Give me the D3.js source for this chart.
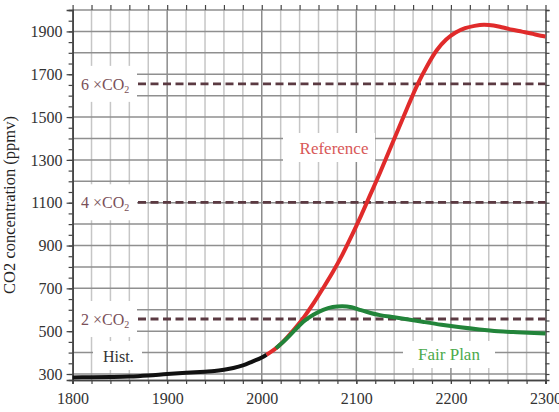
<!DOCTYPE html>
<html>
<head>
<meta charset="utf-8">
<script src="https://cdn.jsdelivr.net/npm/d3@7"></script>
<style>
  body { margin: 0; background: #fff; }
  svg { display: block; }
  svg text { font-family: "Liberation Serif", "Times New Roman", Times, "DejaVu Serif", serif !important; }
</style>
</head>
<body>
<div id="chart"></div>
<script>
// historical record (black)
const histYears = [1800, 1820, 1840, 1860, 1880, 1900, 1920, 1940, 1950, 1960, 1970, 1980, 1990, 2000, 2005];
const histValues = [284, 285, 286, 288, 293, 300, 306, 311, 314, 320, 328, 340, 358, 377, 390];

// reference scenario (red)
const refYears = [2005, 2015, 2025, 2035, 2045, 2055, 2065, 2075, 2085, 2095, 2105, 2115, 2125, 2135, 2145, 2155, 2165, 2175, 2185, 2195, 2205, 2215, 2225, 2235, 2245, 2255, 2265, 2275, 2285, 2295, 2300];
const refValues = [390, 420, 462, 512, 568, 632, 702, 775, 855, 945, 1040, 1140, 1240, 1345, 1450, 1555, 1655, 1740, 1812, 1862, 1895, 1915, 1926, 1931, 1928, 1918, 1908, 1899, 1890, 1880, 1876];

// fair plan scenario (green)
const fairYears = [2015, 2025, 2035, 2045, 2055, 2065, 2075, 2085, 2095, 2105, 2115, 2125, 2140, 2155, 2170, 2190, 2210, 2230, 2250, 2270, 2300];
const fairValues = [420, 460, 505, 548, 578, 600, 613, 617, 612, 598, 585, 575, 565, 555, 544, 530, 518, 508, 500, 495, 489];

// reference levels
const levelNames = ['2', '4', '6'];
const levelValues = [557, 1102, 1655];

const xTicks = [1800, 1900, 2000, 2100, 2200, 2300];
const yTicks = [300, 500, 700, 900, 1100, 1300, 1500, 1700, 1900];

const width = 559, height = 412;
const plotLeft = 72.6, plotRight = 545.5, plotTop = 10, plotBottom = 380;

const svg = d3.select('#chart')
    .append('svg')
    .attr('width', width)
    .attr('height', height);

const x = d3.scaleLinear().domain([1800, 2300]).range([plotLeft, plotRight]);
const y = d3.scaleLinear().domain([272, 2000]).range([plotBottom, plotTop]);

// grid
const grid = svg.append('g');
grid.selectAll('line.v')
    .data(d3.range(1820, 2300, 20))
    .join('line')
    .attr('class', 'v')
    .attr('x1', d => x(d)).attr('x2', d => x(d))
    .attr('y1', plotTop).attr('y2', plotBottom)
    .attr('stroke', d => d % 100 === 0 ? '#8c8c8c' : '#c6c6c6')
    .attr('stroke-width', 1.5);
grid.selectAll('line.h')
    .data(d3.range(300, 2001, 100))
    .join('line')
    .attr('class', 'h')
    .attr('x1', plotLeft).attr('x2', plotRight)
    .attr('y1', d => y(d)).attr('y2', d => y(d))
    .attr('stroke', '#8f8f8f')
    .attr('stroke-width', 1.5);

// white boxes behind labels
const boxes = [
    [73, 137, y(levelValues[0]) - 18, y(levelValues[0]) + 18],
    [73, 137, y(levelValues[1]) - 18, y(levelValues[1]) + 18],
    [73, 137, y(levelValues[2]) - 18, y(levelValues[2]) + 18],
    [93, 142, 341, 370],
    [283, 375, 133, 162],
    [403, 495, 341, 368]
];
svg.append('g').selectAll('rect')
    .data(boxes)
    .join('rect')
    .attr('x', d => d[0]).attr('width', d => d[1] - d[0])
    .attr('y', d => d[2]).attr('height', d => d[3] - d[2])
    .attr('fill', '#fff');

// axes
const axisColor = '#444';
function styleAxis(g) {
    g.attr('font-family', null);
    g.select('.domain').attr('stroke', axisColor).attr('stroke-width', 1.5);
    g.selectAll('.tick line').attr('stroke', axisColor).attr('stroke-width', 1.2);
    g.selectAll('.tick text').attr('fill', '#333')
        .style('font-size', '16px');
}

svg.append('g')
    .attr('transform', `translate(${plotLeft},0)`)
    .call(d3.axisLeft(y).tickValues(d3.range(300, 2001, 50)).tickSize(4).tickFormat(''))
    .call(styleAxis);
svg.append('g')
    .attr('transform', `translate(${plotLeft},0)`)
    .call(d3.axisLeft(y).tickValues(yTicks).tickSize(6).tickPadding(4).tickFormat(d3.format('d')))
    .call(styleAxis);
svg.append('g')
    .attr('transform', `translate(${plotRight},0)`)
    .call(d3.axisRight(y).tickValues(d3.range(300, 2001, 50)).tickSize(4).tickFormat(''))
    .call(styleAxis);
svg.append('g')
    .attr('transform', `translate(0,${plotBottom})`)
    .call(d3.axisBottom(x).tickValues(d3.range(1800, 2301, 20)).tickSize(4).tickFormat(''))
    .call(styleAxis);
svg.append('g')
    .attr('transform', `translate(0,${plotBottom})`)
    .call(d3.axisBottom(x).tickValues(xTicks).tickSize(4).tickPadding(9).tickFormat(d3.format('d')))
    .call(styleAxis);
svg.append('g')
    .attr('transform', `translate(0,${plotTop})`)
    .call(d3.axisTop(x).tickValues(d3.range(1800, 2301, 20)).tickSize(5).tickFormat(''))
    .call(g => g.select('.domain').remove())
    .call(styleAxis);

// y title
svg.append('text')
    .attr('transform', `translate(15,${(plotTop + plotBottom) / 2 + 10}) rotate(-90)`)
    .attr('text-anchor', 'middle')
    .attr('fill', '#222')
    .style('font-size', '16.5px')
    .text('CO2 concentration (ppmv)');

// reference level dashed lines and labels
const levels = levelNames.map((n, i) => ({ n: n, v: levelValues[i] }));
svg.append('g').selectAll('line')
    .data(levels)
    .join('line')
    .attr('x1', 138).attr('x2', plotRight)
    .attr('y1', d => y(d.v)).attr('y2', d => y(d.v))
    .attr('stroke', '#5b3a42')
    .attr('stroke-width', 2.8)
    .attr('stroke-dasharray', '8,4.5');

const lab = svg.append('g').selectAll('text')
    .data(levels)
    .join('text')
    .attr('x', 81)
    .attr('y', d => y(d.v) + 6)
    .attr('fill', '#7a5058')
    .style('font-size', '16px');
lab.append('tspan').text(d => d.n + ' \u00d7CO');
lab.append('tspan').attr('dy', 3).style('font-size', '10px').text('2');

// curves
const line = d3.line()
    .x(d => x(d[0]))
    .y(d => y(d[1]))
    .curve(d3.curveMonotoneX);

svg.append('path')
    .datum(refYears.map((yr, i) => [yr, refValues[i]]))
    .attr('d', line)
    .attr('fill', 'none')
    .attr('stroke', '#e02b2b')
    .attr('stroke-width', 4);
svg.append('path')
    .datum(fairYears.map((yr, i) => [yr, fairValues[i]]))
    .attr('d', line)
    .attr('fill', 'none')
    .attr('stroke', '#22843a')
    .attr('stroke-width', 4);
svg.append('path')
    .datum(histYears.map((yr, i) => [yr, histValues[i]]))
    .attr('d', line)
    .attr('fill', 'none')
    .attr('stroke', '#111')
    .attr('stroke-width', 4);

// series labels
svg.append('text').attr('x', 103).attr('y', 362)
    .attr('fill', '#333').style('font-size', '16px').text('Hist.');
svg.append('text').attr('x', 334).attr('y', 154).attr('text-anchor', 'middle')
    .attr('fill', '#d85858').style('font-size', '17px').text('Reference');
svg.append('text').attr('x', 449).attr('y', 360).attr('text-anchor', 'middle')
    .attr('fill', '#4caa4c').style('font-size', '17px').text('Fair Plan');
</script>
</body>
</html>
